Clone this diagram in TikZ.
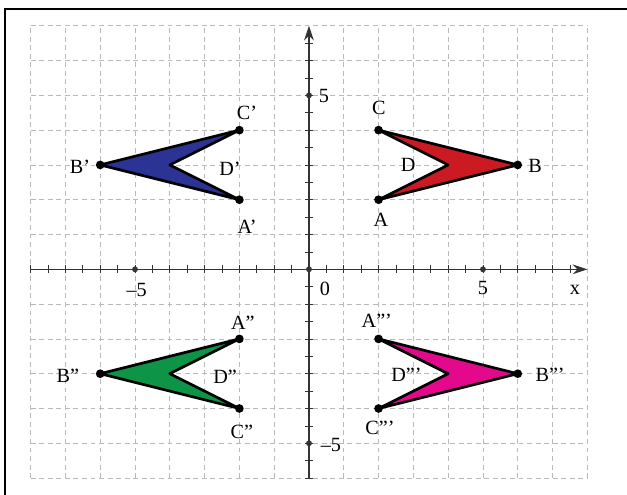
\documentclass[tikz,border=0pt]{standalone}
\usepackage{fontspec}
\setmainfont{Liberation Serif}
\usepackage{xcolor}
\usetikzlibrary{arrows.meta}
\definecolor{dartRed}{HTML}{CC1A22}
\definecolor{dartBlue}{HTML}{2B3494}
\definecolor{dartGreen}{HTML}{0E9447}
\definecolor{dartPink}{HTML}{E4088C}

\begin{document}
\begin{tikzpicture}[>={Stealth[length=12pt,width=8pt]},font=\fontsize{16.5}{19}\selectfont,
  dart/.style={draw=black,line width=2.2pt,line join=round},
  vtx/.style={circle,fill=black,inner sep=0pt,minimum size=2.5mm},
  lbl/.style={inner sep=0pt}]
\useasboundingbox (-8.88,-6.48) rectangle (9.14,7.74);
% frame (cut by the page)
\draw[line width=1.6pt] (-8.74,-7) -- (-8.74,7.49) -- (10,7.49);
% grid
\draw[gray!55, line width=0.6pt, dash pattern=on 4pt off 3pt] (-8,-6) grid (8,7);
% axes
\draw[->, line width=1pt, black!80] (-8,0) -- (8,0);
\draw[->, line width=1pt, black!80] (0,-6) -- (0,7);
\foreach \t in {-16,...,15}{
  \draw[black!80, line width=0.6pt] (\t/2,0.12) -- (\t/2,-0.12);
}
\foreach \t in {-12,...,13}{
  \draw[black!80, line width=0.6pt] (0.12,\t/2) -- (-0.12,\t/2);
}
\foreach \p in {(0,0),(5,0),(-5,0),(0,5),(0,-5)}{
  \fill[black!80] \p circle (2.4pt);
}
\node[lbl] (ny5) at (0.43,4.98) {5};
\node[lbl] (nym5) at (0.63,-5.04) {--5};
\node[lbl] (nx0) at (0.46,-0.55) {0};
\node[lbl] (nx5) at (5,-0.55) {5};
\node[lbl] (nxm5) at (-4.95,-0.6) {--5};
\node[lbl] (nx) at (7.64,-0.6) {x};
% the four darts
\foreach \q/\sx/\sy/\col in {1/1/1/dartRed, 2/-1/1/dartBlue, 3/-1/-1/dartGreen, 4/1/-1/dartPink}{
  \coordinate (A\q) at (2*\sx,2*\sy);
  \coordinate (B\q) at (6*\sx,3*\sy);
  \coordinate (C\q) at (2*\sx,4*\sy);
  \coordinate (D\q) at (4*\sx,3*\sy);
  \filldraw[dart, fill=\col] (A\q) -- (B\q) -- (C\q) -- (D\q) -- cycle;
  \node[vtx] at (A\q) {};
  \node[vtx] at (B\q) {};
  \node[vtx] at (C\q) {};
}
% labels ABCD
\node[lbl] (lA) at (2.07,1.42) {A};
\node[lbl] (lB) at (6.5,2.97) {B};
\node[lbl] (lC) at (2.01,4.64) {C};
\node[lbl] (lD) at (2.85,3.0) {D};
% labels A'B'C'D'
\node[lbl] (lA1) at (-1.78,1.22) {A'};
\node[lbl] (lB1) at (-6.58,2.95) {B'};
\node[lbl] (lC1) at (-1.78,4.5) {C'};
\node[lbl] (lD1) at (-2.27,2.9) {D'};
% labels A''B''C''D''
\node[lbl] (lA2) at (-1.9,-1.54) {A''};
\node[lbl] (lB2) at (-6.93,-3.06) {B''};
\node[lbl] (lC2) at (-1.93,-4.67) {C''};
\node[lbl] (lD2) at (-2.41,-3.1) {D''};
% labels A'''B'''C'''D'''
\node[lbl] (lA3) at (1.95,-1.48) {A'''};
\node[lbl] (lB3) at (6.93,-3.03) {B'''};
\node[lbl] (lC3) at (2.04,-4.55) {C'''};
\node[lbl] (lD3) at (2.8,-3.03) {D'''};
\end{tikzpicture}
\end{document}
